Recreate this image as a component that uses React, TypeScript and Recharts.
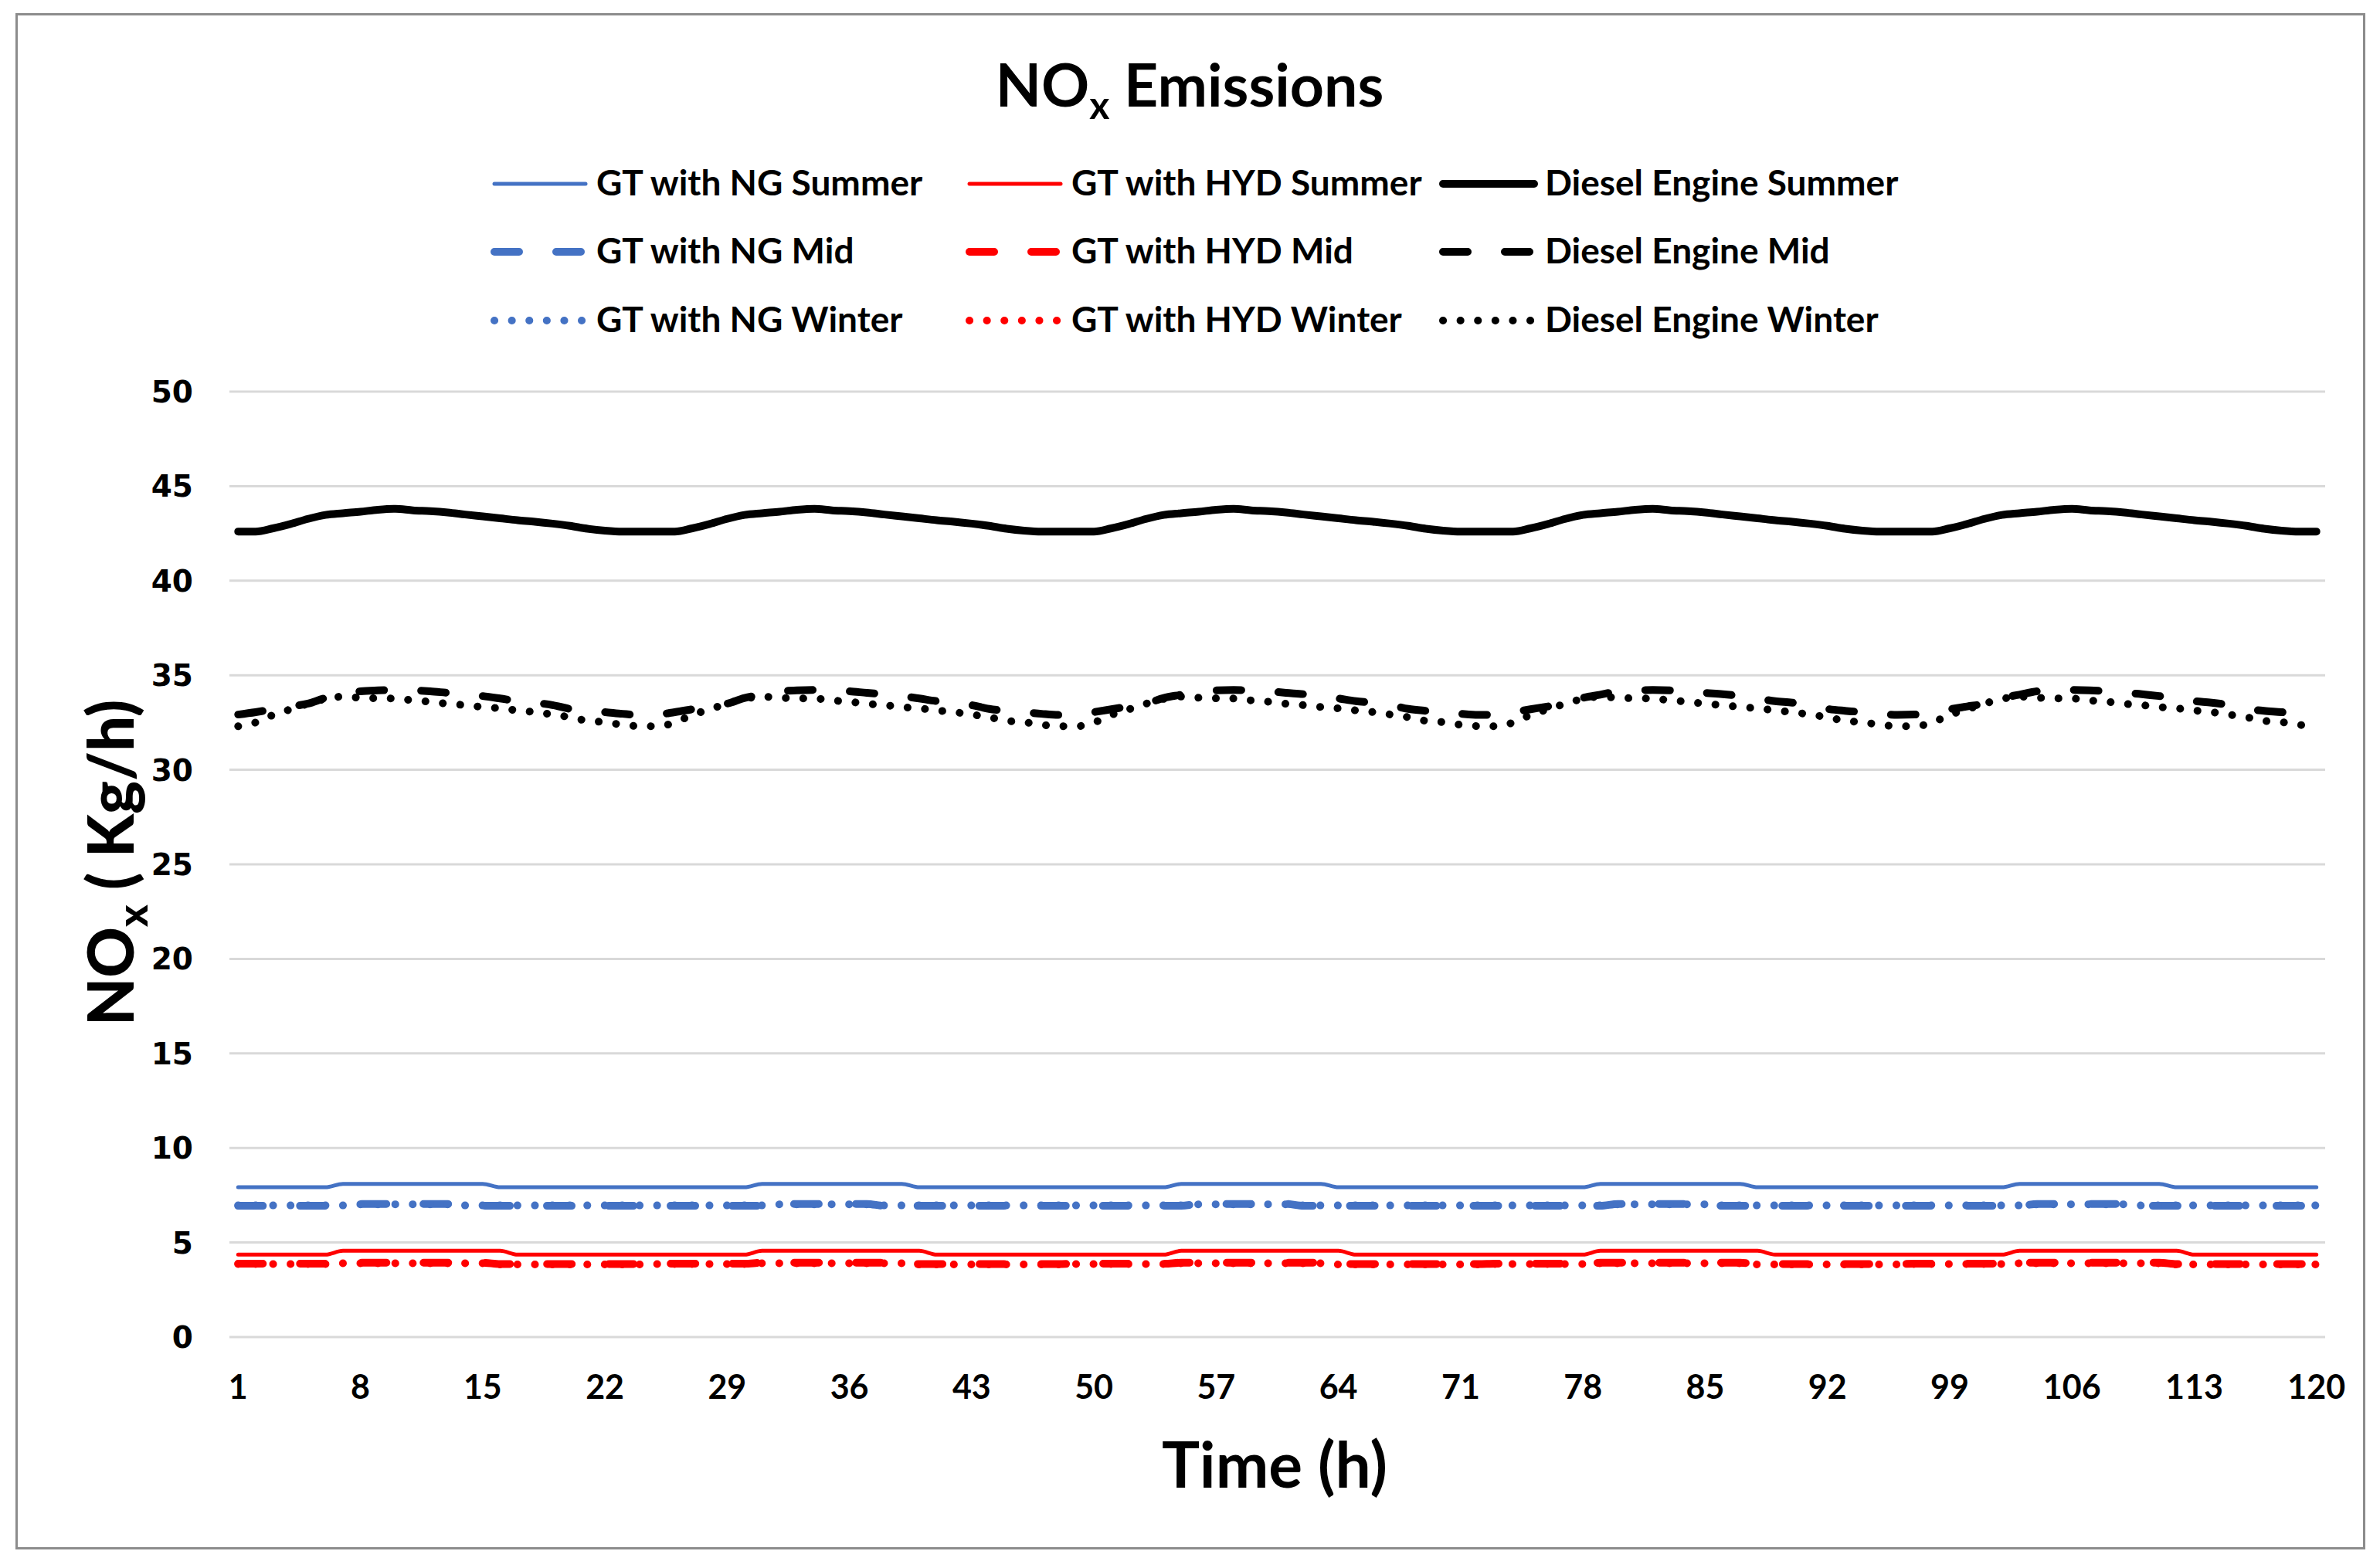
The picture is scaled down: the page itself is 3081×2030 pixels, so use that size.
import React from "react"
import { CartesianGrid, Line, LineChart, XAxis, YAxis } from "recharts"

const W = 3081
const H = 2030
const FONT = "Lato, 'Open Sans', sans-serif"

// hour index 1..120 (5 days)
const hours = Array.from({ length: 120 }, (_, i) => i + 1)
const xTicks = [1, 8, 15, 22, 29, 36, 43, 50, 57, 64, 71, 78, 85, 92, 99, 106, 113, 120]
const yTicks = [0, 5, 10, 15, 20, 25, 30, 35, 40, 45, 50]

const ngSummer = [
  7.92, 7.92, 7.92, 7.92, 7.92, 7.92, 8.1, 8.1, 8.1, 8.1, 8.1, 8.1, 8.1, 8.1, 8.1, 7.92, 7.92, 7.92, 7.92, 7.92, 7.92, 7.92, 7.92, 7.92,
  7.92, 7.92, 7.92, 7.92, 7.92, 7.92, 8.1, 8.1, 8.1, 8.1, 8.1, 8.1, 8.1, 8.1, 8.1, 7.92, 7.92, 7.92, 7.92, 7.92, 7.92, 7.92, 7.92, 7.92,
  7.92, 7.92, 7.92, 7.92, 7.92, 7.92, 8.1, 8.1, 8.1, 8.1, 8.1, 8.1, 8.1, 8.1, 8.1, 7.92, 7.92, 7.92, 7.92, 7.92, 7.92, 7.92, 7.92, 7.92,
  7.92, 7.92, 7.92, 7.92, 7.92, 7.92, 8.1, 8.1, 8.1, 8.1, 8.1, 8.1, 8.1, 8.1, 8.1, 7.92, 7.92, 7.92, 7.92, 7.92, 7.92, 7.92, 7.92, 7.92,
  7.92, 7.92, 7.92, 7.92, 7.92, 7.92, 8.1, 8.1, 8.1, 8.1, 8.1, 8.1, 8.1, 8.1, 8.1, 7.92, 7.92, 7.92, 7.92, 7.92, 7.92, 7.92, 7.92, 7.92,
]
const hydSummer = [
  4.36, 4.36, 4.36, 4.36, 4.36, 4.36, 4.56, 4.56, 4.56, 4.56, 4.56, 4.56, 4.56, 4.56, 4.56, 4.56, 4.36, 4.36, 4.36, 4.36, 4.36, 4.36, 4.36, 4.36,
  4.36, 4.36, 4.36, 4.36, 4.36, 4.36, 4.56, 4.56, 4.56, 4.56, 4.56, 4.56, 4.56, 4.56, 4.56, 4.56, 4.36, 4.36, 4.36, 4.36, 4.36, 4.36, 4.36, 4.36,
  4.36, 4.36, 4.36, 4.36, 4.36, 4.36, 4.56, 4.56, 4.56, 4.56, 4.56, 4.56, 4.56, 4.56, 4.56, 4.56, 4.36, 4.36, 4.36, 4.36, 4.36, 4.36, 4.36, 4.36,
  4.36, 4.36, 4.36, 4.36, 4.36, 4.36, 4.56, 4.56, 4.56, 4.56, 4.56, 4.56, 4.56, 4.56, 4.56, 4.56, 4.36, 4.36, 4.36, 4.36, 4.36, 4.36, 4.36, 4.36,
  4.36, 4.36, 4.36, 4.36, 4.36, 4.36, 4.56, 4.56, 4.56, 4.56, 4.56, 4.56, 4.56, 4.56, 4.56, 4.56, 4.36, 4.36, 4.36, 4.36, 4.36, 4.36, 4.36, 4.36,
]
const dieselSummer = [
  42.6, 42.6, 42.77, 43.0, 43.27, 43.48, 43.57, 43.65, 43.75, 43.8, 43.72, 43.68, 43.61, 43.5, 43.4, 43.3, 43.2, 43.12, 43.02, 42.9, 42.75, 42.65, 42.6, 42.6,
  42.6, 42.6, 42.77, 43.0, 43.27, 43.48, 43.57, 43.65, 43.75, 43.8, 43.72, 43.68, 43.61, 43.5, 43.4, 43.3, 43.2, 43.12, 43.02, 42.9, 42.75, 42.65, 42.6, 42.6,
  42.6, 42.6, 42.77, 43.0, 43.27, 43.48, 43.57, 43.65, 43.75, 43.8, 43.72, 43.68, 43.61, 43.5, 43.4, 43.3, 43.2, 43.12, 43.02, 42.9, 42.75, 42.65, 42.6, 42.6,
  42.6, 42.6, 42.77, 43.0, 43.27, 43.48, 43.57, 43.65, 43.75, 43.8, 43.72, 43.68, 43.61, 43.5, 43.4, 43.3, 43.2, 43.12, 43.02, 42.9, 42.75, 42.65, 42.6, 42.6,
  42.6, 42.6, 42.77, 43.0, 43.27, 43.48, 43.57, 43.65, 43.75, 43.8, 43.72, 43.68, 43.61, 43.5, 43.4, 43.3, 43.2, 43.12, 43.02, 42.9, 42.75, 42.65, 42.6, 42.6,
]
const ngMid = [
  6.94, 6.94, 6.94, 6.94, 6.94, 6.94, 6.94, 7.04, 7.04, 7.04, 7.04, 7.04, 7.04, 6.94, 6.94, 6.94, 6.94, 6.94, 6.94, 6.94, 6.94, 6.94, 6.94, 6.94,
  6.94, 6.94, 6.94, 6.94, 6.94, 6.94, 6.94, 7.04, 7.04, 7.04, 7.04, 7.04, 7.04, 6.94, 6.94, 6.94, 6.94, 6.94, 6.94, 6.94, 6.94, 6.94, 6.94, 6.94,
  6.94, 6.94, 6.94, 6.94, 6.94, 6.94, 6.94, 7.04, 7.04, 7.04, 7.04, 7.04, 7.04, 6.94, 6.94, 6.94, 6.94, 6.94, 6.94, 6.94, 6.94, 6.94, 6.94, 6.94,
  6.94, 6.94, 6.94, 6.94, 6.94, 6.94, 6.94, 7.04, 7.04, 7.04, 7.04, 7.04, 7.04, 6.94, 6.94, 6.94, 6.94, 6.94, 6.94, 6.94, 6.94, 6.94, 6.94, 6.94,
  6.94, 6.94, 6.94, 6.94, 6.94, 6.94, 6.94, 7.04, 7.04, 7.04, 7.04, 7.04, 7.04, 6.94, 6.94, 6.94, 6.94, 6.94, 6.94, 6.94, 6.94, 6.94, 6.94, 6.94,
]
const hydMid = [
  3.88, 3.88, 3.88, 3.88, 3.88, 3.88, 3.93, 3.93, 3.93, 3.93, 3.93, 3.93, 3.93, 3.93, 3.93, 3.86, 3.86, 3.86, 3.86, 3.86, 3.86, 3.86, 3.86, 3.86,
  3.88, 3.88, 3.88, 3.88, 3.88, 3.88, 3.93, 3.93, 3.93, 3.93, 3.93, 3.93, 3.93, 3.93, 3.93, 3.86, 3.86, 3.86, 3.86, 3.86, 3.86, 3.86, 3.86, 3.86,
  3.88, 3.88, 3.88, 3.88, 3.88, 3.88, 3.93, 3.93, 3.93, 3.93, 3.93, 3.93, 3.93, 3.93, 3.93, 3.86, 3.86, 3.86, 3.86, 3.86, 3.86, 3.86, 3.86, 3.86,
  3.88, 3.88, 3.88, 3.88, 3.88, 3.88, 3.93, 3.93, 3.93, 3.93, 3.93, 3.93, 3.93, 3.93, 3.93, 3.86, 3.86, 3.86, 3.86, 3.86, 3.86, 3.86, 3.86, 3.86,
  3.88, 3.88, 3.88, 3.88, 3.88, 3.88, 3.93, 3.93, 3.93, 3.93, 3.93, 3.93, 3.93, 3.93, 3.93, 3.86, 3.86, 3.86, 3.86, 3.86, 3.86, 3.86, 3.86, 3.86,
]
const dieselMid = [
  32.92, 33.05, 33.2, 33.35, 33.5, 33.8, 33.97, 34.15, 34.2, 34.22, 34.2, 34.15, 34.07, 34.0, 33.9, 33.77, 33.63, 33.55, 33.42, 33.22, 33.12, 33.05, 32.96, 32.9,
  32.92, 33.05, 33.2, 33.35, 33.5, 33.8, 33.97, 34.15, 34.2, 34.22, 34.2, 34.15, 34.07, 34.0, 33.9, 33.77, 33.63, 33.55, 33.42, 33.22, 33.12, 33.05, 32.96, 32.9,
  32.92, 33.05, 33.2, 33.35, 33.5, 33.8, 33.97, 34.15, 34.2, 34.22, 34.2, 34.15, 34.07, 34.0, 33.9, 33.77, 33.63, 33.55, 33.42, 33.22, 33.12, 33.05, 32.96, 32.9,
  32.92, 33.05, 33.2, 33.35, 33.5, 33.8, 33.97, 34.15, 34.2, 34.22, 34.2, 34.15, 34.07, 34.0, 33.9, 33.77, 33.63, 33.55, 33.42, 33.22, 33.12, 33.05, 32.96, 32.9,
  32.92, 33.05, 33.2, 33.35, 33.5, 33.8, 33.97, 34.15, 34.2, 34.22, 34.2, 34.15, 34.07, 34.0, 33.9, 33.77, 33.63, 33.55, 33.42, 33.22, 33.12, 33.05, 32.96, 32.9,
]
const ngWinter = [
  6.96, 6.96, 6.96, 6.96, 6.96, 6.96, 6.96, 7.02, 7.02, 7.02, 7.02, 7.02, 7.02, 6.96, 6.96, 6.96, 6.96, 6.96, 6.96, 6.96, 6.96, 6.96, 6.96, 6.96,
  6.96, 6.96, 6.96, 6.96, 6.96, 6.96, 6.96, 7.02, 7.02, 7.02, 7.02, 7.02, 7.02, 6.96, 6.96, 6.96, 6.96, 6.96, 6.96, 6.96, 6.96, 6.96, 6.96, 6.96,
  6.96, 6.96, 6.96, 6.96, 6.96, 6.96, 6.96, 7.02, 7.02, 7.02, 7.02, 7.02, 7.02, 6.96, 6.96, 6.96, 6.96, 6.96, 6.96, 6.96, 6.96, 6.96, 6.96, 6.96,
  6.96, 6.96, 6.96, 6.96, 6.96, 6.96, 6.96, 7.02, 7.02, 7.02, 7.02, 7.02, 7.02, 6.96, 6.96, 6.96, 6.96, 6.96, 6.96, 6.96, 6.96, 6.96, 6.96, 6.96,
  6.96, 6.96, 6.96, 6.96, 6.96, 6.96, 6.96, 7.02, 7.02, 7.02, 7.02, 7.02, 7.02, 6.96, 6.96, 6.96, 6.96, 6.96, 6.96, 6.96, 6.96, 6.96, 6.96, 6.96,
]
const hydWinter = [
  3.86, 3.86, 3.86, 3.86, 3.86, 3.86, 3.9, 3.9, 3.9, 3.9, 3.9, 3.9, 3.9, 3.9, 3.9, 3.84, 3.84, 3.84, 3.84, 3.84, 3.84, 3.84, 3.84, 3.84,
  3.86, 3.86, 3.86, 3.86, 3.86, 3.86, 3.9, 3.9, 3.9, 3.9, 3.9, 3.9, 3.9, 3.9, 3.9, 3.84, 3.84, 3.84, 3.84, 3.84, 3.84, 3.84, 3.84, 3.84,
  3.86, 3.86, 3.86, 3.86, 3.86, 3.86, 3.9, 3.9, 3.9, 3.9, 3.9, 3.9, 3.9, 3.9, 3.9, 3.84, 3.84, 3.84, 3.84, 3.84, 3.84, 3.84, 3.84, 3.84,
  3.86, 3.86, 3.86, 3.86, 3.86, 3.86, 3.9, 3.9, 3.9, 3.9, 3.9, 3.9, 3.9, 3.9, 3.9, 3.84, 3.84, 3.84, 3.84, 3.84, 3.84, 3.84, 3.84, 3.84,
  3.86, 3.86, 3.86, 3.86, 3.86, 3.86, 3.9, 3.9, 3.9, 3.9, 3.9, 3.9, 3.9, 3.9, 3.9, 3.84, 3.84, 3.84, 3.84, 3.84, 3.84, 3.84, 3.84, 3.84,
]
const dieselWinter = [
  32.3, 32.5, 32.9, 33.2, 33.5, 33.75, 33.87, 33.81, 33.78, 33.77, 33.67, 33.6, 33.49, 33.42, 33.32, 33.25, 33.14, 33.05, 32.92, 32.78, 32.59, 32.52, 32.38, 32.31,
  32.3, 32.5, 32.9, 33.2, 33.5, 33.75, 33.87, 33.81, 33.78, 33.77, 33.67, 33.6, 33.49, 33.42, 33.32, 33.25, 33.14, 33.05, 32.92, 32.78, 32.59, 32.52, 32.38, 32.31,
  32.3, 32.5, 32.9, 33.2, 33.5, 33.75, 33.87, 33.81, 33.78, 33.77, 33.67, 33.6, 33.49, 33.42, 33.32, 33.25, 33.14, 33.05, 32.92, 32.78, 32.59, 32.52, 32.38, 32.31,
  32.3, 32.5, 32.9, 33.2, 33.5, 33.75, 33.87, 33.81, 33.78, 33.77, 33.67, 33.6, 33.49, 33.42, 33.32, 33.25, 33.14, 33.05, 32.92, 32.78, 32.59, 32.52, 32.38, 32.31,
  32.3, 32.5, 32.9, 33.2, 33.5, 33.75, 33.87, 33.81, 33.78, 33.77, 33.67, 33.6, 33.49, 33.42, 33.32, 33.25, 33.14, 33.05, 32.92, 32.78, 32.59, 32.52, 32.38, 32.31,
]

const seriesNames = [
  "GT with NG Summer", "GT with HYD Summer", "Diesel Engine Summer",
  "GT with NG Mid", "GT with HYD Mid", "Diesel Engine Mid",
  "GT with NG Winter", "GT with HYD Winter", "Diesel Engine Winter",
]
const seriesKeys = [
  "ngSummer", "hydSummer", "dieselSummer",
  "ngMid", "hydMid", "dieselMid",
  "ngWinter", "hydWinter", "dieselWinter",
]

const data = hours.map((t, i) => ({
  t,
  ngSummer: ngSummer[i],
  hydSummer: hydSummer[i],
  dieselSummer: dieselSummer[i],
  ngMid: ngMid[i],
  hydMid: hydMid[i],
  dieselMid: dieselMid[i],
  ngWinter: ngWinter[i],
  hydWinter: hydWinter[i],
  dieselWinter: dieselWinter[i],
}))

// styling per column (fuel) and row (season)
const colColors = ["#4472C4", "#FF0000", "#000000"]
const solidWidths = [5, 5, 10]
const rowDash = [undefined, "32 48", "0.1 22.5"]

const styleFor = (idx: number) => {
  const row = Math.floor(idx / 3)
  const col = idx % 3
  return {
    color: colColors[col],
    width: row === 0 ? solidWidths[col] : 10,
    dash: rowDash[row],
  }
}

const XTick = (props: any) => {
  const { x, y, payload } = props
  return (
    <text x={x} y={y + 80} textAnchor="middle" fontFamily={FONT} fontWeight={700} fontSize={43} fill="#000">
      {payload.value}
    </text>
  )
}

const YTick = (props: any) => {
  const { x, y, payload } = props
  return (
    <text x={x - 47} y={y + 14} textAnchor="end" fontFamily="'DejaVu Sans', sans-serif" fontWeight={700} fontSize={39} fill="#000">
      {payload.value}
    </text>
  )
}

const legendCols = [635, 1250, 1863]
const legendRows = [238, 326, 415]

function Overlay() {
  return (
    <svg width={W} height={H} style={{ position: "absolute", left: 0, top: 0, pointerEvents: "none" }}>
      <rect x={21.5} y={18.5} width={3039} height={1986} fill="none" stroke="#8c8c8c" strokeWidth={3} />
      <text x={1540} y={138} textAnchor="middle" fontFamily={FONT} fontWeight={700} fontSize={77} fill="#000">
        <tspan>NO</tspan>
        <tspan fontSize={50} dy={16}>x</tspan>
        <tspan dy={-16}> Emissions</tspan>
      </text>
      {seriesNames.map((name, i) => {
        const s = styleFor(i)
        const x0 = legendCols[i % 3]
        const y0 = legendRows[Math.floor(i / 3)]
        return (
          <g key={name}>
            <line
              x1={x0 + 5}
              x2={x0 + 123}
              y1={y0}
              y2={y0}
              stroke={s.color}
              strokeWidth={s.width}
              strokeDasharray={s.dash}
              strokeLinecap="round"
            />
            <text x={x0 + 137} y={y0 + 15} fontFamily={FONT} fontWeight={700} fontSize={46} fill="#000">
              {name}
            </text>
          </g>
        )
      })}
      <text
        x={173}
        y={1117}
        transform="rotate(-90 173 1117)"
        textAnchor="middle"
        fontFamily={FONT}
        fontWeight={900}
        fontSize={81}
        fill="#000"
      >
        <tspan>NO</tspan>
        <tspan fontSize={54} dy={18}>x</tspan>
        <tspan dy={-18}> ( Kg/h)</tspan>
      </text>
      <text x={1650} y={1926} textAnchor="middle" fontFamily={FONT} fontWeight={700} fontSize={82} fill="#000">
        Time (h)
      </text>
    </svg>
  )
}

export default function App() {
  return (
    <div style={{ position: "absolute", left: 0, top: 0, width: W, height: H, background: "#fff" }}>
      <LineChart width={W} height={H} data={data} margin={{ top: 507, right: 71, left: 0, bottom: 0 }}>
        <CartesianGrid vertical={false} stroke="#d9d9d9" strokeWidth={3} />
        <XAxis
          dataKey="t"
          type="number"
          domain={[0.5, 120.5]}
          ticks={xTicks}
          interval={0}
          axisLine={false}
          tickLine={false}
          tickSize={0}
          tickMargin={0}
          height={299}
          tick={XTick}
          allowDataOverflow
        />
        <YAxis
          type="number"
          domain={[0, 50]}
          ticks={yTicks}
          interval={0}
          axisLine={false}
          tickLine={false}
          tickSize={0}
          tickMargin={0}
          width={297}
          tick={YTick}
        />
        {seriesKeys.map((key, i) => {
          const s = styleFor(i)
          return (
            <Line
              key={key}
              dataKey={key}
              name={seriesNames[i]}
              type="monotone"
              stroke={s.color}
              strokeWidth={s.width}
              strokeDasharray={s.dash}
              strokeLinecap="round"
              strokeLinejoin="round"
              dot={false}
              activeDot={false}
              isAnimationActive={false}
            />
          )
        })}
      </LineChart>
      <Overlay />
    </div>
  )
}
